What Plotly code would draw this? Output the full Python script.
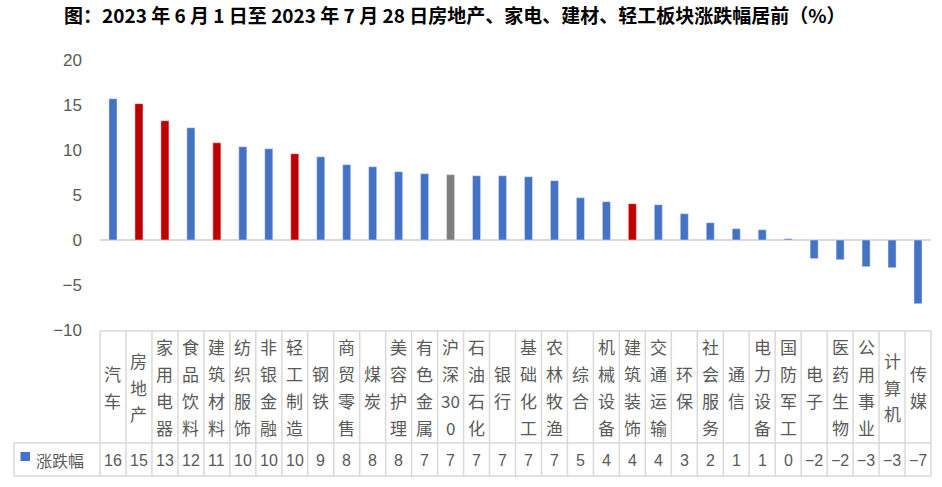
import plotly.graph_objects as go

# 申万一级行业及沪深300，2023-06-01 至 2023-07-28 涨跌幅（%）
categories = [
    "汽车", "房地产", "家用电器", "食品饮料", "建筑材料", "纺织服饰", "非银金融", "轻工制造",
    "钢铁", "商贸零售", "煤炭", "美容护理", "有色金属", "沪深300", "石油石化", "银行",
    "基础化工", "农林牧渔", "综合", "机械设备", "建筑装饰", "交通运输", "环保", "社会服务",
    "通信", "电力设备", "国防军工", "电子", "医药生物", "公用事业", "计算机", "传媒",
]
values = [
    15.7, 15.15, 13.25, 12.48, 10.8, 10.37, 10.14, 9.59,
    9.25, 8.37, 8.14, 7.59, 7.37, 7.26, 7.14, 7.14,
    7.03, 6.59, 4.7, 4.26, 4.03, 3.92, 2.92, 1.92,
    1.26, 1.14, 0.14, -2.07, -2.19, -2.97, -3.08, -7.08,
]
highlighted = ["房地产", "家用电器", "建筑材料", "轻工制造", "建筑装饰"]
benchmark = "沪深300"
series_name = "涨跌幅"
title_text = "图：2023 年 6 月 1 日至 2023 年 7 月 28 日房地产、家电、建材、轻工板块涨跌幅居前（%）"

BLUE, RED, GREY = "#4472C4", "#C00000", "#7F7F7F"
LINE = "#D9D9D9"
TXT = "#595959"

colors = [RED if c in highlighted else GREY if c == benchmark else BLUE for c in categories]


def split_label(name):
    # 一个汉字一行，数字两位一行
    out, buf = [], ""
    for ch in name:
        if ch.isdigit():
            buf += ch
            if len(buf) == 2:
                out.append(buf)
                buf = ""
        else:
            if buf:
                out.append(buf)
                buf = ""
            out.append(ch)
    if buf:
        out.append(buf)
    return out


def fmt(v):
    r = int(round(v))
    return f"\u2212{abs(r)}" if r < 0 else str(r)


fig = go.Figure(go.Bar(
    x=categories, y=values, marker_color=colors, width=0.31,
    name=series_name, showlegend=False,
))

W, H = 942, 487
ML, MR, MT, MB = 100, 11, 60, 157
pw, ph = W - ML - MR, H - MT - MB


def py(pix):
    # 像素行 -> paper y
    return (H - MB - pix) / ph


def px(pix):
    return (pix - ML) / pw


n = len(categories)
head_top, head_bot, row_bot = py(331), py(443), py(476)
left = px(14)

shapes = []
# 表头与数据行横线
shapes.append(dict(type="line", xref="paper", yref="paper", x0=0, x1=1, y0=head_top, y1=head_top))
shapes.append(dict(type="line", xref="paper", yref="paper", x0=left, x1=1, y0=head_bot, y1=head_bot))
shapes.append(dict(type="line", xref="paper", yref="paper", x0=left, x1=1, y0=row_bot, y1=row_bot))
shapes.append(dict(type="line", xref="paper", yref="paper", x0=left, x1=left, y0=head_bot, y1=row_bot))
for i in range(n + 1):
    xp = i / n
    shapes.append(dict(type="line", xref="paper", yref="paper", x0=xp, x1=xp, y0=head_top, y1=row_bot))
for s in shapes:
    s["line"] = dict(color=LINE, width=1.5)

# 图例方块
shapes.append(dict(type="rect", xref="paper", yref="paper", x0=px(20.5), x1=px(30), y0=py(452), y1=py(461),
                   fillcolor=BLUE, line=dict(width=0)))

annotations = []
step = 26.7 / ph
head_mid = py(387)
for c in categories:
    parts = split_label(c)
    k = len(parts)
    for j, p in enumerate(parts):
        annotations.append(dict(
            x=c, xref="x", yref="paper", y=head_mid + ((k - 1) / 2 - j) * step,
            text=p, showarrow=False, xanchor="center", yanchor="middle",
            font=dict(family="Noto Sans CJK SC", size=17, color=TXT),
        ))

row_mid = py(460)
for c, v in zip(categories, values):
    annotations.append(dict(
        x=c, xref="x", yref="paper", y=row_mid, text=fmt(v), showarrow=False,
        xanchor="center", yanchor="middle",
        font=dict(family="Liberation Sans, Arial", size=16, color=TXT),
    ))

annotations.append(dict(
    x=px(34), xref="paper", yref="paper", y=row_mid, text=series_name, showarrow=False,
    xanchor="left", yanchor="middle",
    font=dict(family="Noto Sans CJK SC", size=16, color=TXT),
))

annotations.append(dict(
    x=px(62), xref="paper", yref="paper", y=py(15), text=f"<b>{title_text}</b>", showarrow=False,
    xanchor="left", yanchor="middle",
    font=dict(family="Noto Sans CJK SC", size=19, color="#000000"),
))

fig.update_layout(
    width=W, height=H,
    margin=dict(l=ML, r=MR, t=MT, b=MB),
    paper_bgcolor="white", plot_bgcolor="white",
    showlegend=False,
    shapes=shapes, annotations=annotations,
    xaxis=dict(type="category", range=[-0.5, n - 0.5], showticklabels=False, showgrid=False,
               zeroline=False, showline=False, ticks=""),
    yaxis=dict(range=[-10, 20], dtick=5, showgrid=False, zeroline=True, zerolinecolor=LINE,
               zerolinewidth=2, showline=False, ticks="", ticklabelstandoff=17,
               tickfont=dict(family="Liberation Sans, Arial", size=17, color=TXT)),
)

fig.write_html("out.html", config={"displayModeBar": False},
               post_script="document.body.style.margin='0';")
